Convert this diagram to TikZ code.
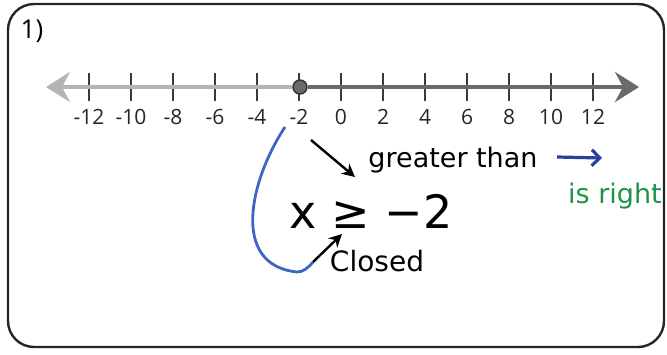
\documentclass[tikz,border=0pt]{standalone}
\usepackage{fontspec}
\setmainfont{Open Sans}
\newfontfamily\handfont{DejaVu Sans}
\usetikzlibrary{arrows.meta}
\definecolor{lightline}{HTML}{B4B4B4}
\definecolor{darkline}{HTML}{6A6A6A}
\definecolor{tickcol}{HTML}{3A3A3A}
\definecolor{penblue}{HTML}{2C3E9E}
\definecolor{curveblue}{HTML}{3D66C4}
\definecolor{pengreen}{HTML}{1E9446}
\tikzset{
  numlbl/.style={font=\fontsize{21}{21}\selectfont, text=black!85, inner sep=0pt},
  hand/.style={font=\handfont\fontsize{#1}{#1}\selectfont, inner sep=0pt},
  tickline/.style={draw=tickcol, line width=2.2pt},
  penarrow/.style={line width=2.4pt, -{Stealth[length=13pt,width=13pt]}},
}
\begin{document}
\begin{tikzpicture}[x=1pt,y=-1pt]
\useasboundingbox (0,0) rectangle (667,354);
\fill[white] (0,0) rectangle (667,354);
% frame
\draw[line width=2.4pt, black!85, rounded corners=26pt] (8,4) rectangle (664,347);
\node[font=\fontsize{26}{26}\selectfont, inner sep=0pt] (num) at (32,31) {1)};
% number line
\coordinate (L) at (46,87);
\coordinate (R) at (639,87);
\foreach \v in {-12,-10,...,12} {
  \pgfmathsetmacro{\xx}{341+21*\v}
  \draw[tickline] (\xx,73) -- (\xx,101);
  \node[numlbl] (lbl\v) at (\xx,117) {\v};
}
\node[circle, draw=black!80, fill=darkline, line width=1.4pt, minimum size=14pt, inner sep=0pt] (dot) at (300,87) {};
\draw[line width=4pt, lightline, -{Stealth[length=24pt,width=30pt,inset=8pt]}] (dot.west) -- (L);
\draw[line width=4pt, darkline, -{Stealth[length=24pt,width=30pt,inset=8pt]}] (dot.east) -- (R);
% handwritten annotations
\node[hand=27] (gt) at (453,160) {greater than};
\node[hand=46, anchor=center] (ineq) at (371,211) {x ≥ −2};
\node[hand=28] (closed) at (377,261) {Closed};
\node[hand=27, text=pengreen] (right) at (615,196) {is right};
\coordinate (a1s) at (311,140);
\coordinate (a1e) at (355,177);
\draw[penarrow, black] (a1s) -- (a1e);
\coordinate (bs) at (557,157);
\coordinate (be) at (602,158);
\draw[line width=3.2pt, penblue, -{Straight Barb[length=8pt,width=16pt]}] (bs) -- (be);
\coordinate (cs) at (285,127);
\coordinate (cj) at (313,262);
\coordinate (ce) at (342,234);
\draw[line width=2.8pt, curveblue] (cs) .. controls (250,180) and (230,265) .. (297,272) .. controls (303,272) and (308,268) .. (cj);
\draw[penarrow, black] (cj) -- (ce);
\end{tikzpicture}
\end{document}
